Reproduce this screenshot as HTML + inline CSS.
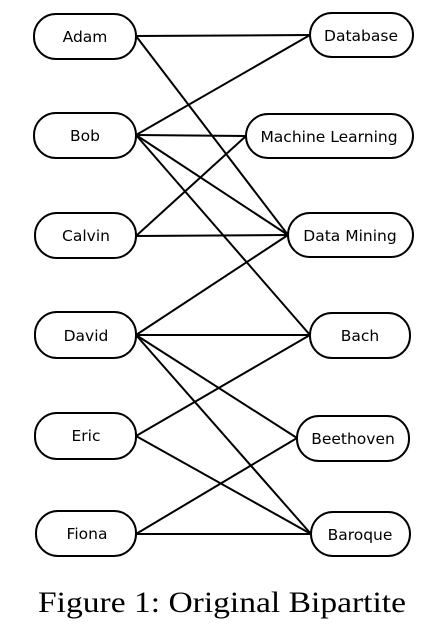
<!DOCTYPE html>
<html><head><meta charset="utf-8"><style>
html,body{margin:0;padding:0;background:#fff;width:448px;height:627px;overflow:hidden}
</style></head><body>
<svg width="448" height="627" xmlns="http://www.w3.org/2000/svg">
<g stroke="#000" stroke-width="2" fill="none">
<line x1="136" y1="36" x2="310" y2="35"/>
<line x1="136" y1="36" x2="288" y2="235"/>
<line x1="136" y1="135" x2="310" y2="35"/>
<line x1="136" y1="135" x2="246" y2="136"/>
<line x1="136" y1="135" x2="288" y2="235"/>
<line x1="136" y1="135" x2="310" y2="335"/>
<line x1="136" y1="236" x2="246" y2="136"/>
<line x1="136" y1="236" x2="288" y2="235"/>
<line x1="136" y1="335" x2="288" y2="235"/>
<line x1="136" y1="335" x2="310" y2="335"/>
<line x1="136" y1="335" x2="297" y2="438"/>
<line x1="136" y1="335" x2="311" y2="534"/>
<line x1="136" y1="436" x2="310" y2="335"/>
<line x1="136" y1="436" x2="311" y2="534"/>
<line x1="136" y1="534" x2="297" y2="438"/>
<line x1="136" y1="534" x2="311" y2="534"/>
</g>
<g stroke="#000" stroke-width="2" fill="#fff">
<rect x="34" y="14" width="102" height="45" rx="22"/>
<rect x="34" y="113" width="102" height="45" rx="22"/>
<rect x="35" y="213" width="101" height="45" rx="22"/>
<rect x="35" y="312" width="101" height="46" rx="22"/>
<rect x="35" y="413" width="101" height="46" rx="22"/>
<rect x="36" y="511" width="100" height="45" rx="22"/>
<rect x="310" y="13" width="103" height="44" rx="22"/>
<rect x="246" y="114" width="167" height="44" rx="22"/>
<rect x="288" y="213" width="125" height="44" rx="22"/>
<rect x="310" y="313" width="100" height="45" rx="22"/>
<rect x="297" y="416" width="112" height="45" rx="22"/>
<rect x="311" y="512" width="99" height="44" rx="22"/>
</g>
<g font-family="DejaVu Sans, Liberation Sans, sans-serif" font-size="15.5" text-anchor="middle" fill="#000">
<text x="85" y="42">Adam</text>
<text x="85" y="141">Bob</text>
<text x="86" y="241">Calvin</text>
<text x="86" y="341">David</text>
<text x="86" y="441">Eric</text>
<text x="87" y="539">Fiona</text>
<text x="361" y="41">Database</text>
<text x="329" y="142">Machine Learning</text>
<text x="350" y="241">Data Mining</text>
<text x="360" y="341">Bach</text>
<text x="353" y="444">Beethoven</text>
<text x="360" y="540">Baroque</text>
</g>
<text x="222" y="612" font-family="Liberation Serif, serif" font-size="30" text-anchor="middle" textLength="368" lengthAdjust="spacingAndGlyphs">Figure 1: Original Bipartite</text>
</svg>
</body></html>
